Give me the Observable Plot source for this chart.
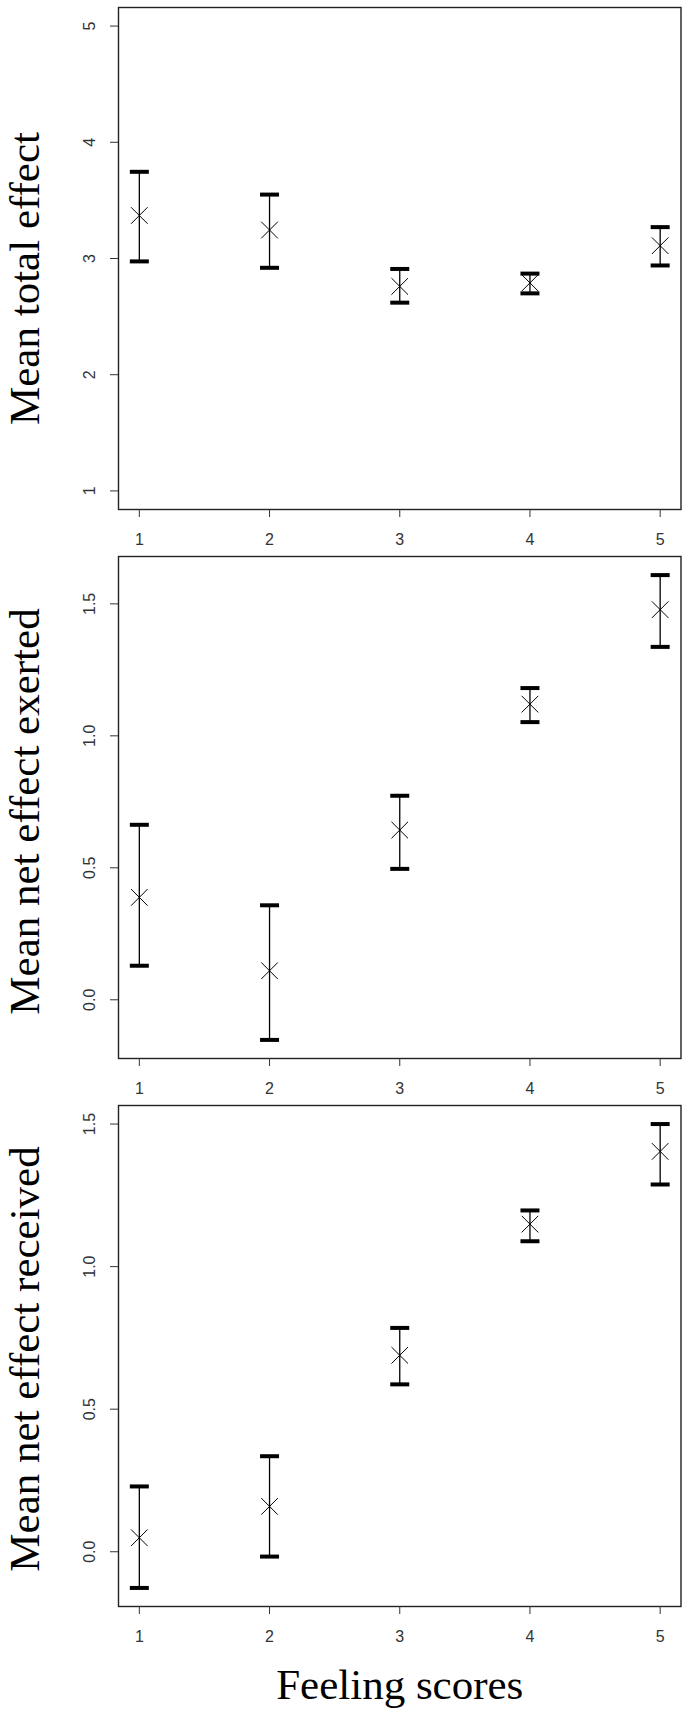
<!DOCTYPE html>
<html><head><meta charset="utf-8">
<script src="https://cdn.jsdelivr.net/npm/d3@7"></script>
<script src="https://cdn.jsdelivr.net/npm/@observablehq/plot@0.6"></script>
<style>
body{margin:0;background:#fff;}
#chart svg{display:block;}
</style></head><body><div id="chart"></div>
<script>
const scores = [1, 2, 3, 4, 5];
const xTicks = [1, 2, 3, 4, 5];

const totalMean  = [3.370, 3.245, 2.760, 2.790, 3.110];
const totalLower = [2.975, 2.920, 2.620, 2.700, 2.940];
const totalUpper = [3.746, 3.550, 2.910, 2.870, 3.270];
const totalTicks = [1, 2, 3, 4, 5];

const exertedMean  = [0.388, 0.110, 0.643, 1.120, 1.478];
const exertedLower = [0.129, -0.152, 0.496, 1.052, 1.337];
const exertedUpper = [0.663, 0.358, 0.773, 1.181, 1.609];
const exertedTicks = [0, 0.5, 1.0, 1.5];

const receivedMean  = [0.049, 0.159, 0.689, 1.149, 1.404];
const receivedLower = [-0.127, -0.017, 0.587, 1.089, 1.288];
const receivedUpper = [0.229, 0.335, 0.785, 1.197, 1.500];
const receivedTicks = [0, 0.5, 1.0, 1.5];

const titles = ["Mean total effect", "Mean net effect exerted", "Mean net effect received"];
const xTitle = "Feeling scores";

// R-style 4% axis extension
function rExtend(lo, hi) { const r = hi - lo; return [lo - 0.04 * r, hi + 0.04 * r]; }

const capSymbol = {
  draw(ctx, size) { const w = Math.sqrt(size / Math.PI); ctx.moveTo(-w, 0); ctx.lineTo(w, 0); }
};

const serif = "'Liberation Serif', 'Times New Roman', Times, serif";
const sans = "'Liberation Sans', Arial, Helvetica, sans-serif";

function panel({mean, lower, upper, yDomain, yTicks, yFormat, title, titleDy, height, marginTop, marginBottom, withXTitle}) {
  const data = scores.map((s, i) => ({score: s, mean: mean[i], lower: lower[i], upper: upper[i]}));
  const marks = [
    Plot.frame({stroke: "#222", strokeWidth: 1.4}),
    Plot.axisX(xTicks, {tickSize: 8, tickPadding: 16, fontSize: 16, color: "#333", tickFormat: d => String(d), label: null}),
    Plot.axisY(yTicks, {tickSize: 8, tickPadding: 16, fontSize: 16, color: "#333", tickRotate: -90, tickFormat: yFormat, label: null}),
    Plot.ruleX(data, {x: "score", y1: "lower", y2: "upper", stroke: "#000", strokeWidth: 1.3}),
    Plot.dot(data, {x: "score", y: "upper", symbol: capSymbol, r: 9.5, fill: "none", stroke: "#000", strokeWidth: 4}),
    Plot.dot(data, {x: "score", y: "lower", symbol: capSymbol, r: 9.5, fill: "none", stroke: "#000", strokeWidth: 4}),
    Plot.dot(data, {x: "score", y: "mean", symbol: "times", r: 7.6, stroke: "#000", strokeWidth: 1}),
    Plot.text([title], {text: d => d, frameAnchor: "left", rotate: -90, textAnchor: "middle", lineAnchor: "bottom",
      dx: 38 - 118, dy: titleDy, fontSize: 43, fontFamily: serif, fill: "#000"})
  ];
  if (withXTitle) {
    marks.push(Plot.text([xTitle], {text: d => d, frameAnchor: "bottom", textAnchor: "middle", lineAnchor: "bottom",
      dy: 92, fontSize: 43, fontFamily: serif, fill: "#000"}));
  }
  return Plot.plot({
    width: 685, height, marginLeft: 118, marginRight: 4.5, marginTop, marginBottom,
    style: {fontFamily: sans, fontSize: "16px", background: "#fff", overflow: "visible"},
    x: {type: "linear", domain: [0.84, 5.16]},
    y: {type: "linear", domain: yDomain},
    marks
  });
}

const chart = document.getElementById("chart");
chart.append(panel({
  mean: totalMean, lower: totalLower, upper: totalUpper,
  yDomain: rExtend(1, 5), yTicks: totalTicks, yFormat: d3.format("d"),
  title: titles[0], titleDy: 20, height: 550, marginTop: 7, marginBottom: 41
}));
chart.append(panel({
  mean: exertedMean, lower: exertedLower, upper: exertedUpper,
  yDomain: rExtend(d3.min(exertedLower), d3.max(exertedUpper)), yTicks: exertedTicks, yFormat: d3.format(".1f"),
  title: titles[1], titleDy: 4, height: 550, marginTop: 6, marginBottom: 42
}));
chart.append(panel({
  mean: receivedMean, lower: receivedLower, upper: receivedUpper,
  yDomain: rExtend(d3.min(receivedLower), d3.max(receivedUpper)), yTicks: receivedTicks, yFormat: d3.format(".1f"),
  title: titles[2], titleDy: 3, height: 613, marginTop: 5, marginBottom: 107, withXTitle: true
}));
</script></body></html>
